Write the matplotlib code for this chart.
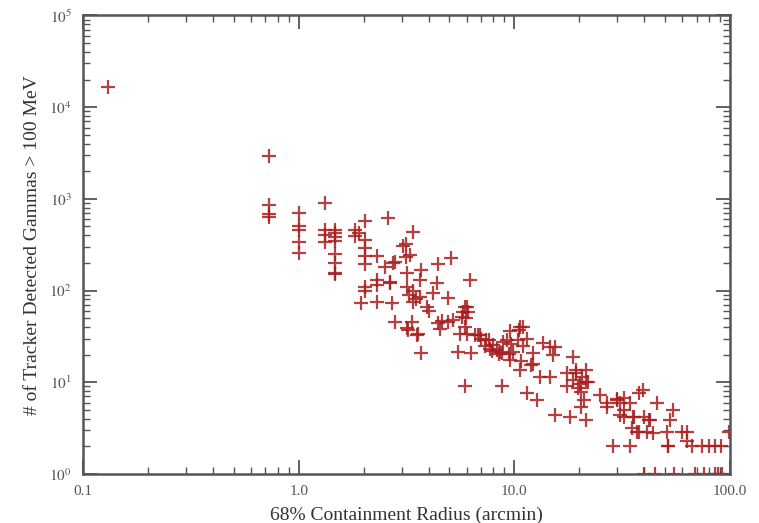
import numpy as np
import matplotlib
matplotlib.use("Agg")
import matplotlib.pyplot as plt
from matplotlib.ticker import FixedLocator, LogLocator, NullFormatter

# 68% containment radius (arcmin) vs number of tracker gammas > 100 MeV
radius = [
    0.13,
    0.73, 0.73, 0.73, 0.73,
    1.0, 1.0, 1.0, 1.0, 1.0,
    1.33, 1.33, 1.33, 1.33,
    1.47, 1.47, 1.47, 1.47, 1.47, 1.47, 1.47, 1.47,
    1.83, 1.83, 1.9,
    2.03, 2.03, 2.03, 2.03, 2.03, 2.03, 2.03, 1.95,
    2.3, 2.3, 2.3, 2.3,
    2.6, 2.5, 2.75, 2.66, 2.7, 2.8, 2.8, 2.66,
    3.05, 3.14, 3.29, 3.4, 3.13, 3.18, 3.18, 3.23, 3.4, 3.66, 3.93, 3.34,
    3.58, 3.2, 3.7, 3.7, 3.66, 3.4, 3.5, 3.18, 3.54,
    4.2, 4.36, 4.44, 4.92, 4.44, 4.5, 4.92, 5.07, 5.19, 4.0, 4.6,
    5.78, 5.99, 5.89, 5.6, 5.5, 6.3, 6.22, 5.9, 5.9, 6.0, 5.7, 6.1, 6.0,
    6.6, 7.4, 7.7, 8.3, 8.9, 6.9, 8.0, 8.6, 9.9, 9.5, 10.6, 11.4, 12.2,
    6.8, 7.0, 7.3, 7.6, 7.9, 8.5, 8.8, 8.73, 9.2, 9.4, 9.6, 10.4, 10.5,
    11.0, 10.7, 10.6, 11.0, 11.4, 12.0, 12.2, 12.7, 13.2, 14.6, 13.6, 14.6,
    15.1, 15.5, 15.4, 9.5,
    18.7, 17.5, 19.4, 20.5, 18.7, 20.1, 19.7, 21.6, 20.4, 18.1, 21.6,
    19.4, 17.5, 21.0, 22.0, 21.5, 20.4,
    25.0, 26.8, 29.8, 34.4, 35.6, 42.5, 27.0, 31.0, 32.4, 32.4, 32.4,
    36.0, 38.0, 39.6, 40.0, 38.0, 42.0, 44.0, 45.7, 54.6, 51.6, 52.6, 30.0,
    31.0, 35.0, 36.9, 41.0, 51.0, 63.0, 60.0,
    28.8, 34.4, 51.8, 63.5, 67.0, 74.0, 80.0, 85.0, 91.0, 99.0,
    40.0, 45.0, 55.0, 69.0, 76.0, 85.0, 88.0, 92.0,
]
gammas = [
    16500,
    2900, 860, 640, 680,
    710, 500, 460, 340, 255,
    910, 460, 400, 335,
    460, 420, 380, 350, 250, 200, 155, 150,
    460, 390, 420,
    575, 355, 290, 240, 195, 110, 100, 73,
    240, 130, 115, 76,
    625, 182, 200, 125, 73, 46, 207, 120,
    306, 234, 243, 438, 326, 157, 110, 90, 76, 86, 67, 46,
    34, 37, 21, 168, 131, 100, 80, 39, 33,
    94, 120, 195, 82, 44, 38, 46, 225, 48, 60, 47,
    59, 50, 40, 34, 21.6, 20.7, 131, 66, 9, 34, 52, 59, 67,
    33, 29, 23, 22.4, 27.6, 33, 25.5, 21.6, 21.6, 35.8, 40, 30, 20.7,
    33, 30, 25, 29, 22, 20.6, 21, 9, 29, 20.6, 26, 29, 37,
    40, 17, 13.6, 25, 7.6, 15.4, 16, 6.4, 11.5, 11.5, 26.6, 24.5,
    19.8, 24, 4.4, 17.5,
    19, 12.5, 13.6, 11.5, 10.6, 9.7, 8.6, 10.2, 5.4, 4.2, 3.9,
    12.5, 9, 6.4, 10, 13.6, 7.9,
    7.3, 5.4, 6.4, 5.9, 4.2, 3.9, 5.9, 5.9, 5.0, 4.2, 6.7,
    4.2, 7.6, 8.2, 4.2, 2.9, 3.9, 2.8, 5.9, 5.0, 2.0, 3.9, 6.5,
    4.4, 3.2, 2.9, 2.9, 2.9, 2.9, 2.9,
    2.0, 2.0, 2.0, 2.3, 2.0, 2.0, 2.0, 2.0, 2.0, 2.9,
    1, 1, 1, 1, 1, 1, 1, 1,
]

plt.rcParams['font.family'] = ['Liberation Serif', 'DejaVu Serif']
plt.rcParams['mathtext.fontset'] = 'stix'

fig = plt.figure(figsize=(7.59, 5.23), dpi=100)
ax = fig.add_axes([0.1094, 0.0937, 0.8524, 0.8767])

ax.plot(radius, gammas, linestyle='none', marker='+', markersize=10,
        markeredgewidth=1.6, color='#a81e1e', alpha=0.85)

ax.set_xscale('log')
ax.set_yscale('log')
ax.set_xlim(0.1, 100)
ax.set_ylim(1, 1e5)

grey = '#555555'
ax.xaxis.set_major_locator(FixedLocator([0.1, 1, 10, 100]))
ax.set_xticklabels(['0.1', '1.0', '10.0', '100.0'])
ax.xaxis.set_minor_locator(LogLocator(base=10, subs=np.arange(2, 10)))
ax.xaxis.set_minor_formatter(NullFormatter())
ax.yaxis.set_major_locator(FixedLocator([1, 10, 100, 1e3, 1e4, 1e5]))
ax.set_yticklabels([r'$10^{%d}$' % i for i in range(6)])
ax.yaxis.set_minor_locator(LogLocator(base=10, subs=np.arange(2, 10)))
ax.yaxis.set_minor_formatter(NullFormatter())

ax.tick_params(which='both', direction='in', top=True, right=True,
               colors=grey, labelsize=11, labelcolor=grey)
ax.tick_params(which='major', length=10, width=1.3, pad=8)
ax.tick_params(which='minor', length=5, width=1.0)
for s in ax.spines.values():
    s.set_color(grey)
    s.set_linewidth(1.8)

ax.set_xlabel('68% Containment Radius (arcmin)', fontsize=14, color='#333333',
              labelpad=6)
ax.set_ylabel('# of Tracker Detected Gammas > 100 MeV', fontsize=14,
              color='#333333', labelpad=6)

fig.savefig('out.png', dpi=100)
